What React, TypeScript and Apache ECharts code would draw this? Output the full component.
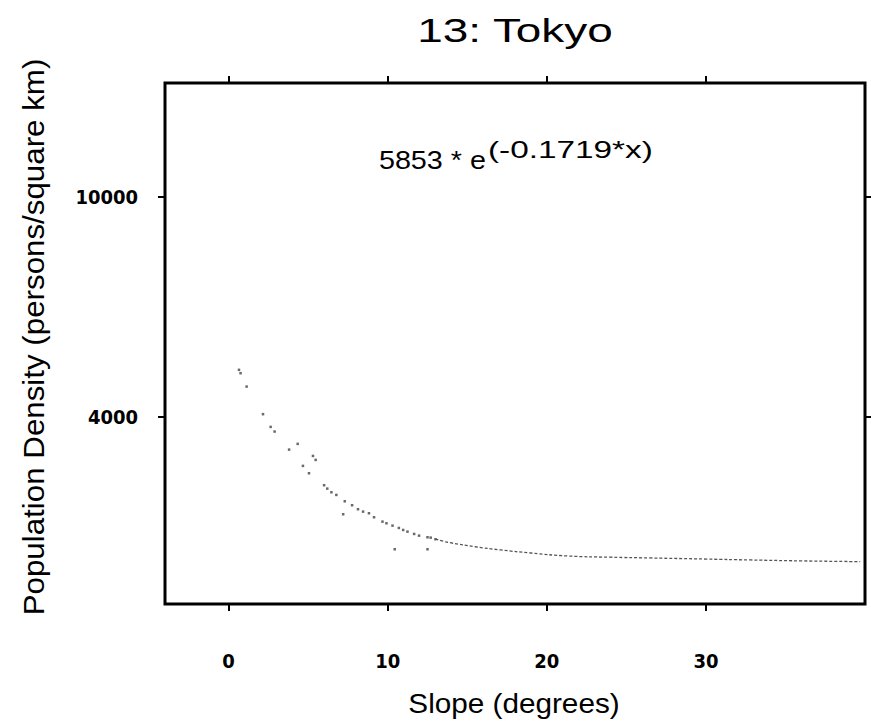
import React, { useEffect, useRef } from "react";
import * as echarts from "echarts";

// Fitted-curve dots (slope in degrees, persons / km²)
const dotSlope = [0.65, 0.75, 1.13, 2.16, 2.64, 2.89, 3.8, 4.34, 4.67, 5.05, 5.3, 5.47, 6.0, 6.2, 6.46, 6.77, 7.2, 7.3, 7.76, 8.13, 8.45, 8.82, 9.14, 9.67, 9.92, 10.3, 10.44, 10.7, 10.97, 11.24, 11.66, 11.97, 12.5, 12.5, 12.7, 13.0];
const dotDensity = [5282, 5191, 4826, 4074, 3727, 3600, 3108, 3264, 2664, 2464, 2936, 2827, 2137, 2045, 1946, 1873, 1346, 1700, 1592, 1483, 1418, 1374, 1264, 1145, 1100, 1036, 392, 973, 918, 872, 809, 763, 719, 392, 709, 665];

// Flat tail of the curve
const tailSlope = [13.0, 13.5, 14.0, 15.5, 17.1, 19.0, 21.3, 24.0, 26.5, 30.0, 32.8, 36.0, 39.7];
const tailDensity = [665, 610, 564, 460, 373, 290, 209, 175, 155, 125, 100, 75, 54];

const xTicks = [0, 10, 20, 30];
const yTicks = [4000, 10000];

const titleText = "13: Tokyo";
const xName = "Slope (degrees)";
const yName = "Population Density (persons/square km)";
const eqMain = "5853 * e";
const eqSup = "(-0.1719*x)";

export default function App() {
  const ref = useRef<HTMLDivElement>(null);
  useEffect(() => {
    if (!ref.current) return;
    const chart = echarts.init(ref.current, null, { renderer: "svg" });
    const font = "'Liberation Sans', Arial, sans-serif";
    const tickFont = "'DejaVu Sans Condensed', 'DejaVu Sans', sans-serif";
    const tickAxis = (pos: string, vals: number[], labels: boolean, margin: number) => ({
      position: pos,
      axisLine: { show: false, onZero: false },
      splitLine: { show: false },
      axisTick: {
        show: true,
        customValues: vals,
        length: 7,
        lineStyle: { color: "#000", width: 2 },
      },
      axisLabel: labels
        ? {
            show: true,
            customValues: vals,
            margin,
            fontSize: 20,
            fontFamily: tickFont,
            fontWeight: "bold",
            color: "#000",
            formatter: (v: number) => String(v),
          }
        : { show: false },
    });
    chart.setOption({
      animation: false,
      backgroundColor: "#fff",
      grid: {
        left: 165,
        top: 83,
        right: 6,
        bottom: 118,
        show: true,
        borderColor: "#000",
        borderWidth: 3,
      },
      xAxis: [
        { type: "value", min: -4, max: 40, ...tickAxis("bottom", xTicks, true, 47) },
        { type: "value", min: -4, max: 40, ...tickAxis("top", xTicks, false, 0) },
      ],
      yAxis: [
        { type: "value", min: -1100, max: 13100, ...tickAxis("left", yTicks, true, 27) },
        { type: "value", min: -1100, max: 13100, ...tickAxis("right", yTicks, false, 0) },
      ],
      graphic: [
        {
          type: "text",
          x: 515,
          y: 30,
          scaleX: 1.35,
          style: {
            text: titleText,
            fontSize: 34,
            fontFamily: font,
            fill: "#000",
            align: "center",
            verticalAlign: "middle",
          },
        },
        {
          type: "text",
          x: 514,
          y: 703,
          scaleX: 1.1,
          style: {
            text: xName,
            fontSize: 27,
            fontFamily: font,
            fill: "#000",
            align: "center",
            verticalAlign: "middle",
          },
        },
        {
          type: "text",
          x: 34,
          y: 337,
          rotation: Math.PI / 2,
          scaleX: 1.16,
          scaleY: 1.12,
          style: {
            text: yName,
            fontSize: 27,
            fontFamily: font,
            fill: "#000",
            align: "center",
            verticalAlign: "middle",
          },
        },
        {
          type: "text",
          x: 486,
          y: 161,
          scaleX: 1.15,
          style: {
            text: eqMain,
            fontSize: 25,
            fontFamily: font,
            fill: "#000",
            align: "right",
            verticalAlign: "middle",
          },
        },
        {
          type: "text",
          x: 488,
          y: 150,
          scaleX: 1.45,
          style: {
            text: eqSup,
            fontSize: 23,
            fontFamily: font,
            fill: "#000",
            align: "left",
            verticalAlign: "middle",
          },
        },
      ],
      series: [
        {
          type: "scatter",
          xAxisIndex: 0,
          yAxisIndex: 0,
          data: dotSlope.map((s, i) => [s, dotDensity[i]]),
          symbol: "rect",
          symbolSize: 2.5,
          itemStyle: { color: "#444" },
        },
        {
          type: "line",
          xAxisIndex: 0,
          yAxisIndex: 0,
          data: tailSlope.map((s, i) => [s, tailDensity[i]]),
          showSymbol: false,
          smooth: true,
          lineStyle: { color: "#555", width: 1.3, type: [3, 2] },
        },
      ],
    });
    return () => chart.dispose();
  }, []);
  return <div ref={ref} style={{ width: 871, height: 722, position: "absolute", left: 0, top: 0 }} />;
}
